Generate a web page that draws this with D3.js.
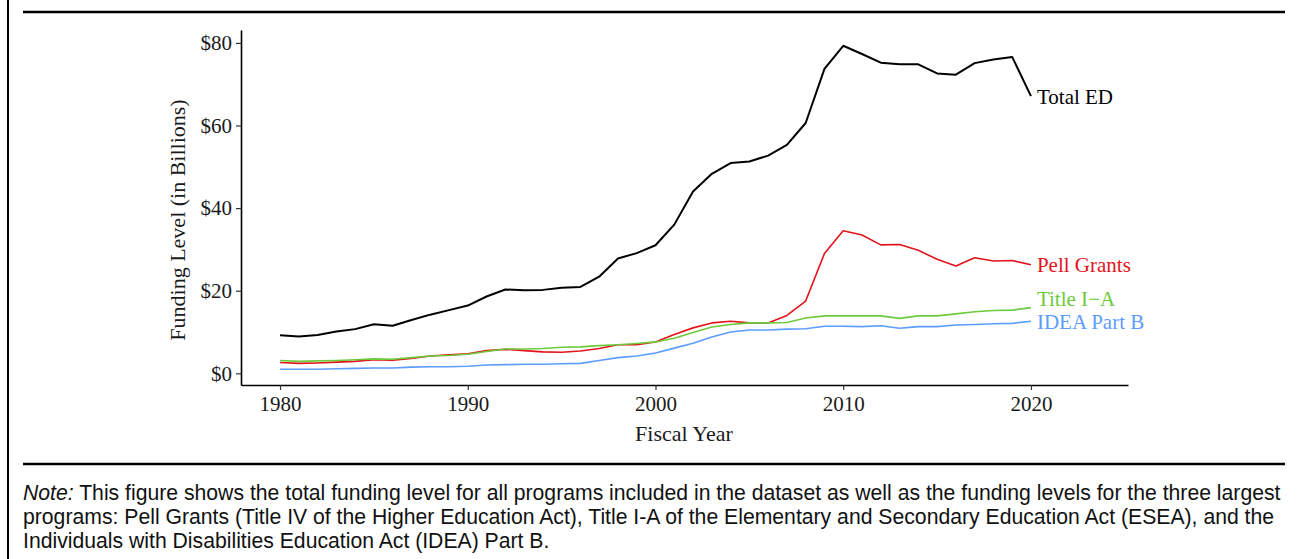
<!DOCTYPE html>
<html>
<head>
<meta charset="utf-8">
<script src="https://cdn.jsdelivr.net/npm/d3@7"></script>
<style>
  body { margin: 0; background: #fff; }
  svg { display: block; }
  .tick text { font-family: "Liberation Serif", "Times New Roman", serif; font-size: 21px; fill: #1a1a1a; }
  .axis-title { font-family: "Liberation Serif", "Times New Roman", serif; font-size: 22px; fill: #1a1a1a; }
  .series-label { font-family: "Liberation Serif", "Times New Roman", serif; font-size: 21px; }
  .note { font-family: "Liberation Sans", Arial, sans-serif; font-size: 21.2px; fill: #111; }
</style>
</head>
<body>
<div id="chart"></div>
<script>
// Fiscal years on the x axis
const years = d3.range(1980, 2021);

// Funding levels in billions of dollars
const totalED = [9.2, 8.9, 9.3, 10.1, 10.7, 11.9, 11.5, 12.9, 14.2, 15.3,
  16.4, 18.6, 20.3, 20.1, 20.2, 20.7, 20.9, 23.4, 27.8, 29.1,
  31.0, 36.0, 44.0, 48.3, 50.9, 51.3, 52.7, 55.3, 60.6, 73.7,
  79.3, 77.3, 75.2, 74.8, 74.8, 72.6, 72.3, 75.1, 76.0, 76.6, 67.1];
const pellGrants = [2.6, 2.4, 2.5, 2.7, 2.9, 3.3, 3.2, 3.6, 4.2, 4.5,
  4.7, 5.5, 5.8, 5.5, 5.2, 5.1, 5.4, 6.0, 6.9, 6.9,
  7.6, 9.4, 11.0, 12.2, 12.6, 12.2, 12.2, 14.0, 17.5, 29.0,
  34.5, 33.5, 31.1, 31.2, 29.8, 27.6, 26.0, 28.0, 27.2, 27.3, 26.3];
const titleIA = [3.1, 2.9, 3.0, 3.1, 3.3, 3.5, 3.4, 3.8, 4.2, 4.3,
  4.6, 5.3, 5.9, 5.9, 6.0, 6.3, 6.4, 6.7, 6.9, 7.2,
  7.6, 8.5, 9.9, 11.2, 11.8, 12.2, 12.2, 12.3, 13.4, 13.9,
  13.9, 13.9, 13.9, 13.3, 13.9, 13.9, 14.4, 14.9, 15.2, 15.3, 15.9];
const ideaPartB = [1.0, 1.0, 1.0, 1.1, 1.2, 1.3, 1.3, 1.5, 1.6, 1.6,
  1.7, 2.0, 2.1, 2.2, 2.2, 2.3, 2.4, 3.1, 3.8, 4.2,
  4.9, 6.1, 7.3, 8.8, 10.0, 10.5, 10.5, 10.7, 10.8, 11.4,
  11.4, 11.3, 11.5, 10.9, 11.3, 11.3, 11.7, 11.8, 12.0, 12.1, 12.6];

const seriesNames = ["Total ED", "Pell Grants", "Title I\u2212A", "IDEA Part B"];
const seriesColors = ["#000000", "#e3131b", "#6bcb3b", "#5c9cff"];
const seriesValues = [totalED, pellGrants, titleIA, ideaPartB];

const xTicks = [1980, 1990, 2000, 2010, 2020];
const yTicks = [0, 20, 40, 60, 80];

const noteLines = [
  [["Note:", true], [" This figure shows the total funding level for all programs included in the dataset as well as the funding levels for the three largest", false]],
  [["programs: Pell Grants (Title IV of the Higher Education Act), Title I-A of the Elementary and Secondary Education Act (ESEA), and the", false]],
  [["Individuals with Disabilities Education Act (IDEA) Part B.", false]]
];

const svgWidth = 1297;
const svgHeight = 559;

const svg = d3.select("#chart").append("svg")
  .attr("width", svgWidth)
  .attr("height", svgHeight);

// Frame: left border and the two horizontal rules
svg.append("line").attr("x1", 8).attr("x2", 8).attr("y1", 0).attr("y2", svgHeight)
  .attr("stroke", "#000").attr("stroke-width", 2);
svg.append("line").attr("x1", 23).attr("x2", 1285).attr("y1", 12).attr("y2", 12)
  .attr("stroke", "#000").attr("stroke-width", 2.5);
svg.append("line").attr("x1", 23).attr("x2", 1285).attr("y1", 464).attr("y2", 464)
  .attr("stroke", "#000").attr("stroke-width", 2.5);

// Scales (ggplot-style padding around the data range)
const x = d3.scaleLinear().domain([1977.92, 2025.17]).range([241, 1128]);
const y = d3.scaleLinear().domain([-2.83, 83.12]).range([385, 30]);

const bottomAxis = d3.axisBottom(x).tickValues(xTicks).tickFormat(d3.format("d"))
  .tickSize(5).tickSizeOuter(0).tickPadding(6);
const leftAxis = d3.axisLeft(y).tickValues(yTicks).tickFormat(d => "$" + d)
  .tickSize(5).tickSizeOuter(0).tickPadding(4);

const gx = svg.append("g").attr("transform", "translate(0,385)").call(bottomAxis);
const gy = svg.append("g").attr("transform", "translate(241,0)").call(leftAxis);
[gx, gy].forEach(g => {
  g.select(".domain").attr("stroke", "#000").attr("stroke-width", 1.6);
  g.selectAll(".tick line").attr("stroke", "#333").attr("stroke-width", 1.2);
});

// Lines
const line = d3.line()
  .x((d, i) => x(years[i]))
  .y(d => y(d));

seriesValues.forEach((vals, k) => {
  svg.append("path")
    .datum(vals)
    .attr("fill", "none")
    .attr("stroke", seriesColors[k])
    .attr("stroke-width", k === 0 ? 2 : 1.6)
    .attr("stroke-linejoin", "round")
    .attr("d", line);
});

// Direct labels at the end of each line (Title I-A nudged up to clear IDEA)
const labelNudge = [0, 0, -9, 0];
seriesValues.forEach((vals, k) => {
  svg.append("text")
    .attr("class", "series-label")
    .attr("x", x(years[years.length - 1]) + 6)
    .attr("y", y(vals[vals.length - 1]) + labelNudge[k])
    .attr("dy", "0.35em")
    .attr("fill", seriesColors[k])
    .text(seriesNames[k]);
});

// Axis titles
svg.append("text")
  .attr("class", "axis-title")
  .attr("x", 684)
  .attr("y", 441)
  .attr("text-anchor", "middle")
  .text("Fiscal Year");

svg.append("text")
  .attr("class", "axis-title")
  .attr("transform", "translate(185,220) rotate(-90)")
  .attr("text-anchor", "middle")
  .text("Funding Level (in Billions)");

// Note below the chart
const note = svg.append("text").attr("class", "note");
noteLines.forEach((parts, i) => {
  parts.forEach((p, j) => {
    const ts = note.append("tspan").text(p[0]);
    if (j === 0) ts.attr("x", 23).attr("y", 500 + i * 24);
    if (p[1]) ts.attr("font-style", "italic");
  });
});
</script>
</body>
</html>
